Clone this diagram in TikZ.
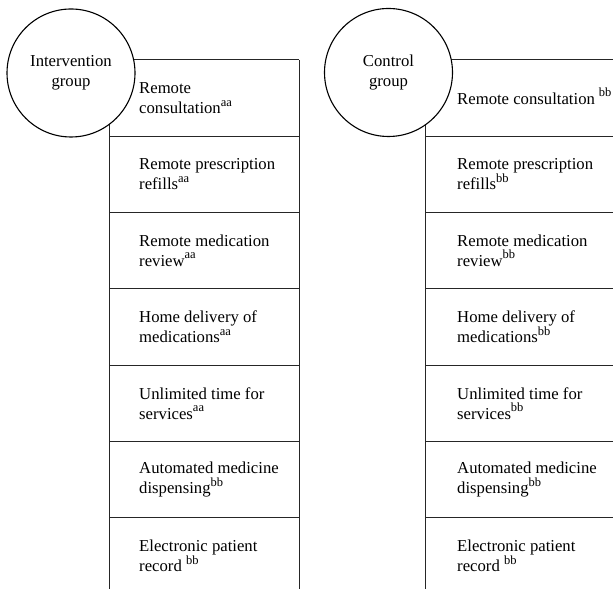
\documentclass[tikz,border=0pt]{standalone}
\usepackage{fontspec}
\setmainfont{Liberation Serif}
\newcommand{\supmark}[1]{\raisebox{7.5pt}{\fontsize{12.5}{13}\selectfont #1}}

\begin{document}
\begin{tikzpicture}[x=1pt, y=1pt, font=\fontsize{16.7}{20}\selectfont,
		rule/.style={line width=1pt, black!85},
		cell/.style={anchor=west, align=left, inner sep=0pt},
		grpcircle/.style={circle, draw, line width=1.1pt, fill=white, minimum size=128pt, align=center, inner sep=0pt}]
	\useasboundingbox (0,0) rectangle (613,589);

	% intervention table
	\foreach \k in {0,...,6}
		\draw[rule] (109, {529-76.3*\k}) -- (299, {529-76.3*\k});
	\draw[rule] (109, 0) -- (109, 529);
	\draw[rule] (299, 0) -- (299, 529);

	% control table
	\foreach \k in {0,...,6}
		\draw[rule] (425, {529-76.3*\k}) -- (613, {529-76.3*\k});
	\draw[rule] (425, 0) -- (425, 529);

	\foreach \txt [count=\k] in {
			{Remote\\consultation\supmark{aa}},
			{Remote prescription\\refills\supmark{aa}},
			{Remote medication\\review\supmark{aa}},
			{Home delivery of\\medications\supmark{aa}},
			{Unlimited time for\\services\supmark{aa}},
			{Automated medicine\\dispensing\supmark{bb}},
			{Electronic patient\\record \supmark{bb}}}
		\node[cell] (i\k) at (139, {529-76.3*(\k-0.5)}) {\txt};

	\node[cell, anchor=base west] (c1) at (457, 484.5) {Remote consultation\hspace{4pt}\supmark{bb}};
	\foreach \txt [count=\k from 2] in {
			{Remote prescription\\refills\supmark{bb}},
			{Remote medication\\review\supmark{bb}},
			{Home delivery of\\medications\supmark{bb}},
			{Unlimited time for\\services\supmark{bb}},
			{Automated medicine\\dispensing\supmark{bb}},
			{Electronic patient\\record \supmark{bb}}}
		\node[cell] (c\k) at (457, {529-76.3*(\k-0.5)}) {\txt};

	% group circles on top of the table corners
	\node[grpcircle] (ig) at (71, 516) {Intervention\\group};
	\node[grpcircle] (cg) at (388.5, 516.5) {Control\\group};
\end{tikzpicture}
\end{document}
